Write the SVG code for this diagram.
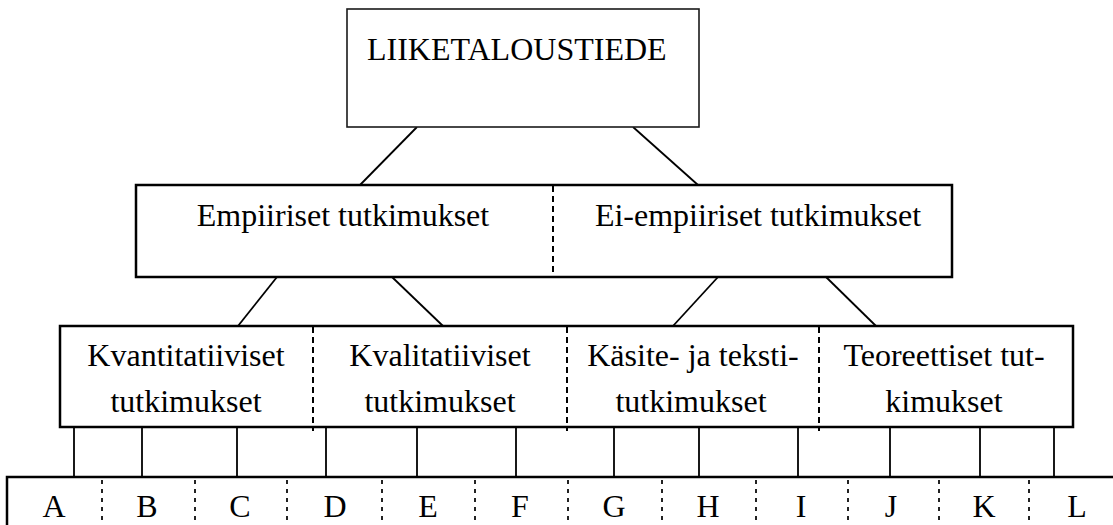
<svg xmlns="http://www.w3.org/2000/svg" width="1113" height="525" viewBox="0 0 1113 525">
  <style>
    .box { fill: #ffffff; stroke: #000000; stroke-width: 2.5; }
    .top { fill: #ffffff; stroke: #1a1a1a; stroke-width: 1.6; }
    .div { stroke: #000000; stroke-width: 2; stroke-dasharray: 6 4; fill: none; }
    .dot { stroke: #222222; stroke-width: 2; stroke-dasharray: 4 5; fill: none; }
    .link { stroke: #000000; stroke-width: 1.8; fill: none; }
    text { font-family: "Liberation Serif", "Times New Roman", serif; font-size: 32px; fill: #000000; }
    .c { text-anchor: middle; }
  </style>

  <!-- connectors between the levels -->
  <g id="connectors">
    <line class="link" x1="417" y1="127" x2="360" y2="185"/>
    <line class="link" x1="633" y1="127" x2="698" y2="185"/>
    <line class="link" x1="277" y1="277" x2="238" y2="326"/>
    <line class="link" x1="392" y1="277" x2="443" y2="326"/>
    <line class="link" x1="718" y1="277" x2="673" y2="326"/>
    <line class="link" x1="826" y1="277" x2="876" y2="326"/>
    <line class="link" x1="74" y1="427" x2="74" y2="477"/>
    <line class="link" x1="142" y1="427" x2="142" y2="477"/>
    <line class="link" x1="237" y1="427" x2="237" y2="477"/>
    <line class="link" x1="326" y1="427" x2="326" y2="477"/>
    <line class="link" x1="417" y1="427" x2="417" y2="477"/>
    <line class="link" x1="516" y1="427" x2="516" y2="477"/>
    <line class="link" x1="614" y1="427" x2="614" y2="477"/>
    <line class="link" x1="699" y1="427" x2="699" y2="477"/>
    <line class="link" x1="798" y1="427" x2="798" y2="477"/>
    <line class="link" x1="890" y1="427" x2="890" y2="477"/>
    <line class="link" x1="980" y1="427" x2="980" y2="477"/>
    <line class="link" x1="1054" y1="427" x2="1054" y2="477"/>
  </g>

  <!-- root -->
  <g id="root">
    <rect class="top" x="347" y="9" width="352" height="118"/>
    <text x="367" y="60">LIIKETALOUSTIEDE</text>
  </g>

  <!-- second level -->
  <g id="level2">
    <rect class="box" x="136" y="185" width="816" height="92"/>
    <line class="div" x1="553" y1="186" x2="553" y2="276"/>
    <text class="c" x="343" y="226">Empiiriset tutkimukset</text>
    <text class="c" x="758" y="226">Ei-empiiriset tutkimukset</text>
  </g>

  <!-- third level -->
  <g id="level3">
    <rect class="box" x="60" y="326" width="1013" height="101"/>
    <line class="div" x1="313" y1="327" x2="313" y2="431"/>
    <line class="div" x1="567" y1="327" x2="567" y2="431"/>
    <line class="div" x1="819" y1="327" x2="819" y2="431"/>
    <text class="c" x="186" y="366">Kvantitatiiviset</text>
    <text class="c" x="186" y="412">tutkimukset</text>
    <text class="c" x="440" y="366">Kvalitatiiviset</text>
    <text class="c" x="440" y="412">tutkimukset</text>
    <text class="c" x="693" y="366">Käsite- ja teksti-</text>
    <text class="c" x="691" y="412">tutkimukset</text>
    <text class="c" x="944" y="366">Teoreettiset tut-</text>
    <text class="c" x="944" y="412">kimukset</text>
  </g>

  <!-- letter row -->
  <g id="letters">
    <rect class="box" x="7" y="477" width="1130" height="80"/>
    <line class="dot" x1="102" y1="480" x2="102" y2="525"/>
    <line class="dot" x1="195" y1="480" x2="195" y2="525"/>
    <line class="dot" x1="287" y1="480" x2="287" y2="525"/>
    <line class="dot" x1="382" y1="480" x2="382" y2="525"/>
    <line class="dot" x1="475" y1="480" x2="475" y2="525"/>
    <line class="dot" x1="568" y1="480" x2="568" y2="525"/>
    <line class="dot" x1="662" y1="480" x2="662" y2="525"/>
    <line class="dot" x1="756" y1="480" x2="756" y2="525"/>
    <line class="dot" x1="848" y1="480" x2="848" y2="525"/>
    <line class="dot" x1="939" y1="480" x2="939" y2="525"/>
    <line class="dot" x1="1029" y1="480" x2="1029" y2="525"/>
    <text class="c" x="54" y="517">A</text>
    <text class="c" x="147" y="517">B</text>
    <text class="c" x="240" y="517">C</text>
    <text class="c" x="335" y="517">D</text>
    <text class="c" x="428" y="517">E</text>
    <text class="c" x="520" y="517">F</text>
    <text class="c" x="614" y="517">G</text>
    <text class="c" x="708" y="517">H</text>
    <text class="c" x="801" y="517">I</text>
    <text class="c" x="891" y="517">J</text>
    <text class="c" x="984" y="517">K</text>
    <text class="c" x="1077" y="517">L</text>
  </g>
</svg>
